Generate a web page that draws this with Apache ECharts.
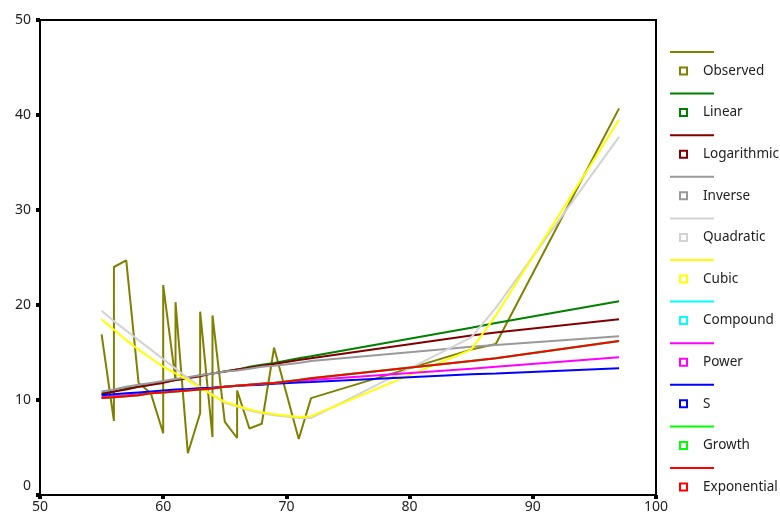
<!DOCTYPE html>
<html>
<head>
<meta charset="utf-8">
<script src="https://cdn.jsdelivr.net/npm/echarts@6/dist/echarts.min.js"></script>
<style>
  html, body { margin: 0; padding: 0; background: #fff; }
  #chart { width: 780px; height: 519px; }
</style>
</head>
<body>
<div id="chart"></div>
<script>
// Observed cases, sorted by x (several cases share an x value)
const obsX = [55, 56, 56, 57, 58, 59, 60, 60, 61, 61, 62, 63, 63, 64, 64, 65, 66, 66, 67, 68, 69, 71, 72, 85, 87, 97];
const obsY = [16.9, 7.8, 24.0, 24.7, 11.8, 10.7, 6.5, 22.1, 12.1, 20.3, 4.4, 8.6, 19.3, 6.1, 18.9, 7.7, 6.0, 11.0, 7.0, 7.5, 15.5, 5.9, 10.2, 15.3, 15.9, 40.7];

// Fitted values of each model at the distinct x values
const fitX = [55, 56, 57, 58, 59, 60, 61, 62, 63, 64, 65, 66, 67, 68, 69, 71, 72, 85, 87, 97];
const linear      = [10.7, 10.9, 11.2, 11.4, 11.6, 11.9, 12.1, 12.3, 12.6, 12.8, 13.0, 13.2, 13.5, 13.7, 13.9, 14.4, 14.6, 17.6, 18.1, 20.4];
const logarithmic = [10.6, 10.9, 11.1, 11.4, 11.6, 11.8, 12.1, 12.3, 12.5, 12.8, 13.0, 13.2, 13.4, 13.6, 13.8, 14.2, 14.4, 16.8, 17.1, 18.5];
const inverse     = [10.9, 11.1, 11.4, 11.6, 11.8, 12.0, 12.2, 12.4, 12.6, 12.8, 13.0, 13.1, 13.3, 13.5, 13.6, 13.9, 14.1, 15.6, 15.8, 16.7];
const quadratic   = [19.4, 18.3, 17.3, 16.3, 15.3, 14.3, 13.3, 12.3, 11.4, 10.6, 9.7, 9.3, 8.9, 8.6, 8.4, 8.1, 8.1, 16.6, 19.7, 37.7];
const cubic       = [18.5, 17.4, 16.3, 15.3, 14.4, 13.5, 12.8, 12.1, 11.3, 10.5, 9.8, 9.4, 9.0, 8.7, 8.5, 8.2, 8.3, 15.3, 18.9, 39.5];
const compound    = [10.2, 10.3, 10.4, 10.5, 10.7, 10.8, 10.9, 11.0, 11.1, 11.2, 11.4, 11.5, 11.6, 11.7, 11.8, 12.1, 12.3, 14.1, 14.4, 16.2];
const power       = [10.3, 10.4, 10.5, 10.6, 10.8, 10.9, 11.0, 11.1, 11.2, 11.3, 11.4, 11.5, 11.6, 11.7, 11.8, 12.0, 12.1, 13.3, 13.5, 14.5];
const sCurve      = [10.5, 10.6, 10.7, 10.8, 10.9, 11.0, 11.1, 11.15, 11.25, 11.3, 11.4, 11.5, 11.55, 11.6, 11.7, 11.85, 11.9, 12.7, 12.8, 13.35];
const growth      = [10.2, 10.3, 10.4, 10.5, 10.7, 10.8, 10.9, 11.0, 11.1, 11.2, 11.4, 11.5, 11.6, 11.7, 11.8, 12.1, 12.3, 14.1, 14.4, 16.2];
const exponential = [10.2, 10.3, 10.4, 10.5, 10.7, 10.8, 10.9, 11.0, 11.1, 11.2, 11.4, 11.5, 11.6, 11.7, 11.8, 12.1, 12.3, 14.1, 14.4, 16.2];

const xTicks = [50, 60, 70, 80, 90, 100];
const yTicks = [0, 10, 20, 30, 40, 50];

const seriesDefs = [
  { name: 'Observed',    color: '#808000', xs: obsX, ys: obsY },
  { name: 'Linear',      color: '#008000', xs: fitX, ys: linear },
  { name: 'Logarithmic', color: '#800000', xs: fitX, ys: logarithmic },
  { name: 'Inverse',     color: '#999999', xs: fitX, ys: inverse },
  { name: 'Quadratic',   color: '#d3d3d3', xs: fitX, ys: quadratic },
  { name: 'Cubic',       color: '#ffff00', xs: fitX, ys: cubic },
  { name: 'Compound',    color: '#00ffff', xs: fitX, ys: compound },
  { name: 'Power',       color: '#ff00ff', xs: fitX, ys: power },
  { name: 'S',           color: '#0000ff', xs: fitX, ys: sCurve },
  { name: 'Growth',      color: '#00ff00', xs: fitX, ys: growth },
  { name: 'Exponential', color: '#ff0000', xs: fitX, ys: exponential }
];

const FONT = 'Noto Sans';
const LEGEND_GAP = 21.6;

const chart = echarts.init(document.getElementById('chart'), null, { renderer: 'canvas' });

const axisCommon = {
  type: 'value',
  axisLine: { show: true, onZero: false, lineStyle: { color: '#000', width: 2 } },
  axisTick: { show: true, length: 4, lineStyle: { color: '#000', width: 4 } },
  splitLine: { show: false },
  axisLabel: { color: '#222', fontFamily: FONT, fontSize: 14 }
};

chart.setOption({
  animation: false,
  backgroundColor: '#fff',
  grid: { left: 40, right: 124, top: 20, bottom: 24, show: true, borderColor: '#000', borderWidth: 2, backgroundColor: 'transparent' },
  xAxis: Object.assign({}, axisCommon, {
    min: xTicks[0], max: xTicks[xTicks.length - 1], interval: xTicks[1] - xTicks[0],
    axisLabel: Object.assign({}, axisCommon.axisLabel, { margin: 5 })
  }),
  yAxis: Object.assign({}, axisCommon, {
    min: yTicks[0], max: yTicks[yTicks.length - 1], interval: yTicks[1] - yTicks[0],
    axisLabel: Object.assign({}, axisCommon.axisLabel, {
      margin: 9,
      formatter: v => (v === yTicks[0] ? '{low|' + v + '}' : String(v)),
      rich: { low: { fontFamily: FONT, fontSize: 14, color: '#222', padding: [0, 0, 18, 0] } }
    })
  }),
  legend: [
    {
      // colour bars drawn above each legend entry
      data: seriesDefs.map(d => d.name),
      orient: 'vertical', left: 670, top: 42, padding: 0,
      icon: 'rect', itemWidth: 44, itemHeight: 2, itemGap: LEGEND_GAP,
      formatter: () => ' ',
      textStyle: { fontSize: 14, lineHeight: 20, fontFamily: FONT }
    },
    {
      // hollow square marker and name for each entry
      data: seriesDefs.map(d => ({
        name: d.name,
        itemStyle: { color: '#fff', borderColor: d.color, borderWidth: 2 }
      })),
      orient: 'vertical', left: 679, top: 61, padding: 0,
      icon: 'rect', itemWidth: 7, itemHeight: 7, itemGap: LEGEND_GAP,
      textStyle: { fontSize: 13.5, lineHeight: 20, fontFamily: FONT, color: '#222', padding: [0, 0, 0, 11] }
    }
  ],
  series: seriesDefs.map(d => ({
    name: d.name,
    type: 'line',
    symbol: 'none',
    color: d.color,
    lineStyle: { color: d.color, width: 2 },
    data: d.xs.map((x, i) => [x, d.ys[i]])
  }))
});
</script>
</body>
</html>
